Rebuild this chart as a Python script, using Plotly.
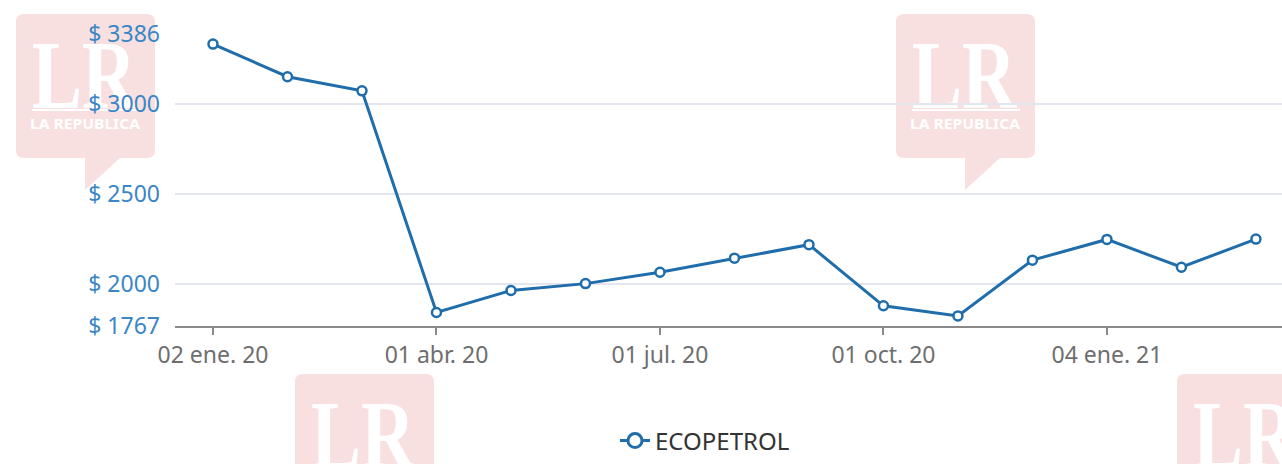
import base64
import plotly.graph_objects as go

# ---- data ----
months = ["2020-01", "2020-02", "2020-03", "2020-04", "2020-05", "2020-06", "2020-07",
          "2020-08", "2020-09", "2020-10", "2020-11", "2020-12", "2021-01", "2021-02", "2021-03"]
prices = [3330, 3149, 3071, 1842, 1964, 2002, 2065, 2143, 2218, 1879, 1823, 2132, 2247, 2093, 2249]
tick_idx = [0, 3, 6, 9, 12]
tick_text = ["02 ene. 20", "01 abr. 20", "01 jul. 20", "01 oct. 20", "04 ene. 21"]
y_ticks = [1767, 2000, 2500, 3000, 3386]
series_name = "ECOPETROL"

# ---- layout geometry (pixels) ----
W, H = 1282, 464
PL, PR, PT, PB = 175, 1282, 34, 326
COLOR = "#1f6dab"


def px(x):
    return (x - PL) / (PR - PL)


def py(y):
    return (PB - y) / (PB - PT)


fig = go.Figure()
fig.add_trace(go.Scatter(
    x=list(range(len(months))), y=prices, name=series_name, mode="lines+markers",
    line=dict(color=COLOR, width=3), showlegend=False, legendgroup="s",
    marker=dict(symbol="circle", size=9, color="white", line=dict(color=COLOR, width=2.5)),
    customdata=months, hovertemplate="%{customdata}: $ %{y}<extra></extra>",
))
# legend entry (larger symbol like the reference legend)
fig.add_trace(go.Scatter(
    x=[None], y=[None], name=series_name, mode="lines+markers", legendgroup="s",
    line=dict(color=COLOR, width=3),
    marker=dict(symbol="circle", size=14, color="white", line=dict(color=COLOR, width=3)),
))

# ---- background watermark (decoration, drawn below the grid) ----
WM_W, WM_H = 139, 176
wm_svg = f"""<svg xmlns="http://www.w3.org/2000/svg" width="{WM_W}" height="{WM_H}" viewBox="0 0 {WM_W} {WM_H}">
<path d="M8,0 H131 Q139,0 139,8 V136 Q139,144 131,144 H104 L69,176 V144 H8 Q0,144 0,136 V8 Q0,0 8,0 Z" fill="#f9e0e0"/>
<text x="16" y="94" font-family="Liberation Serif" font-weight="bold" font-size="98" fill="white"
 textLength="104" lengthAdjust="spacingAndGlyphs">LR</text>
<rect x="16" y="95" width="108" height="2" fill="white"/>
<text x="14" y="115" font-family="Noto Sans" font-weight="bold" font-size="15" fill="white"
 textLength="110" lengthAdjust="spacingAndGlyphs">LA REPUBLICA</text>
</svg>"""
wm_src = "data:image/svg+xml;base64," + base64.b64encode(wm_svg.encode()).decode()

images = []
for (wx, wy) in [(16, 14), (896, 14), (295, 374), (1177, 374)]:
    images.append(dict(source=wm_src, xref="paper", yref="paper", x=px(wx), y=py(wy),
                       sizex=WM_W / (PR - PL), sizey=WM_H / (PB - PT), sizing="stretch",
                       xanchor="left", yanchor="top", layer="below"))

fig.update_layout(
    width=W, height=H,
    margin=dict(l=PL, r=W - PR, t=PT, b=H - PB),
    paper_bgcolor="white", plot_bgcolor="rgba(0,0,0,0)",
    font=dict(family="Noto Sans", size=23),
    images=images,
    showlegend=True,
    legend=dict(orientation="h", x=px(705), xanchor="center", y=py(441), yanchor="middle",
                font=dict(size=24, color="#333333"), bgcolor="rgba(0,0,0,0)"),
    xaxis=dict(range=[-0.51, 14.35], tickmode="array", tickvals=tick_idx, ticktext=tick_text,
               showgrid=False, zeroline=False, showline=True, linecolor="#8a8a8a", linewidth=2,
               ticks="outside", ticklen=7, tickwidth=2, tickcolor="#8a8a8a",
               tickfont=dict(size=23, color="#6e6e6e")),
    yaxis=dict(range=[1767, 3386], tickmode="array", tickvals=y_ticks,
               ticktext=[f"$ {v}" for v in y_ticks],
               showgrid=True, gridcolor="#e3e6ee", gridwidth=1.5, zeroline=False, showline=False,
               ticks="", ticklabelstandoff=14, tickfont=dict(size=23, color="#3a86c6")),
)

fig.write_html("out.html", config={"displayModeBar": False},
               post_script="document.body.style.margin='0';")
